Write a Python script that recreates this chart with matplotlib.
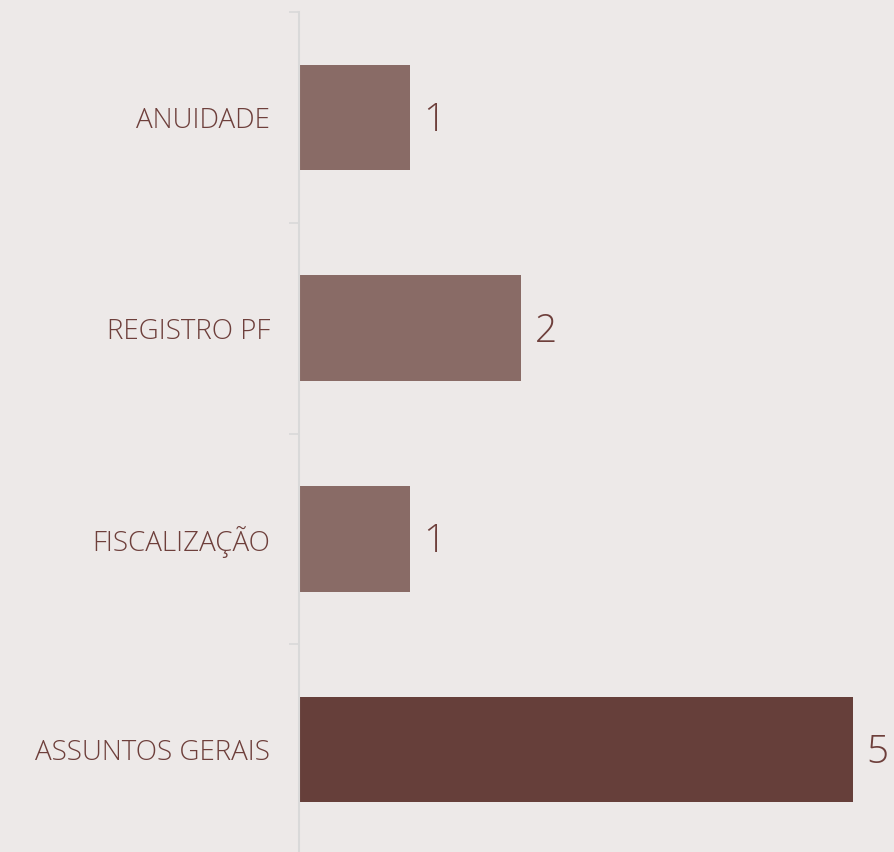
import matplotlib.pyplot as plt

# data
categories = ['ANUIDADE', 'REGISTRO PF', 'FISCALIZAÇÃO', 'ASSUNTOS GERAIS']
values = [1, 2, 1, 5]
bar_colors = ['#896B66', '#896B66', '#896B66', '#663F3A']

bg = '#EDE9E8'
text_color = '#6E3F3B'

plt.rcParams['font.family'] = ['Open Sans', 'DejaVu Sans']

fig = plt.figure(figsize=(8.95, 8.52), dpi=100, facecolor=bg)
ax = fig.add_axes([299 / 895, -3 / 852, 596 / 895, 843 / 852])
ax.set_facecolor(bg)

pos = list(range(len(categories)))
ax.barh(pos, values, height=0.5, color=bar_colors)
ax.set_ylim(len(categories) - 0.5, -0.5)
ax.set_xlim(0, 5.38)

# value labels
for y, v in zip(pos, values):
    ax.annotate(str(v), (v, y + 0.015), xytext=(10, 0), textcoords='offset points',
                va='center', ha='left', fontsize=28, color=text_color,
                fontweight='light')

# category labels on major ticks, small ticks on the band edges
ax.set_yticks(pos)
ax.set_yticklabels(categories, fontsize=20, color=text_color, fontweight='light')
ax.tick_params(axis='y', which='major', length=0, pad=21)
ax.set_yticks([p - 0.5 for p in pos] + [len(pos) - 0.5], minor=True)
ax.tick_params(axis='y', which='minor', length=7, width=1.2, color='#D9D9D9')
ax.set_xticks([])

for s in ['top', 'right', 'bottom']:
    ax.spines[s].set_visible(False)
ax.spines['left'].set_color('#D9D9D9')
ax.spines['left'].set_linewidth(1.5)

fig.savefig('out.png', dpi=100, facecolor=bg)
